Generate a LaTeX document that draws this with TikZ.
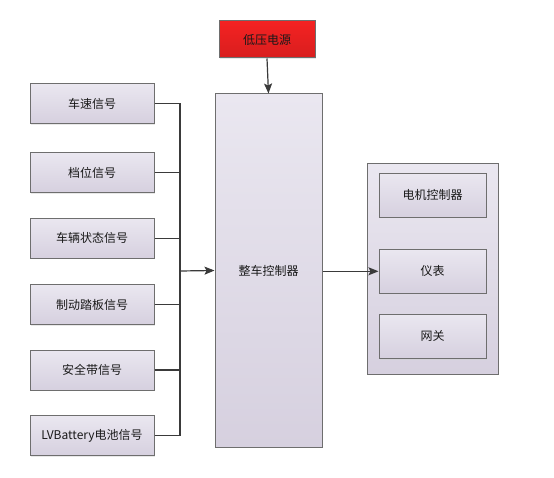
\documentclass[tikz,border=0pt]{standalone}
\usepackage{fontspec}
\newfontfamily\cjk{Noto Sans CJK SC}
\usepackage{tikz}
\usetikzlibrary{arrows.meta,shadows}

\definecolor{boxtop}{HTML}{EAE7F0}
\definecolor{boxbot}{HTML}{D6D0DF}
\definecolor{boxline}{HTML}{6E6E6E}
\definecolor{redtop}{HTML}{F42222}
\definecolor{redbot}{HTML}{D81E1E}
\definecolor{wire}{HTML}{3A3A3A}

\tikzset{
  box/.style={draw=boxline, line width=1pt, top color=boxtop, bottom color=boxbot,
    drop shadow={shadow xshift=1.2pt, shadow yshift=-1.2pt, fill=black!18},
    font=\cjk\fontsize{12}{14}\selectfont, text=black!90},
  sigbox/.style={box, minimum width=124pt, minimum height=40pt},
  outbox/.style={box, minimum width=107pt, minimum height=44pt},
  wireline/.style={draw=wire, line width=1.2pt},
  arr/.style={wireline, -{Stealth[length=10pt,width=8pt,inset=2pt]}}
}

\begin{document}
\begin{tikzpicture}[x=1pt,y=-1pt]
\useasboundingbox (0,0) rectangle (554,478);
% power supply and controller
\node[box, minimum width=96pt, minimum height=37pt, top color=redtop, bottom color=redbot]
  (pwr) at (267,39.5) {低压电源};
\node[box, minimum width=107pt, minimum height=353pt] (vcu) at (268.5,270.5) {整车控制器};
\draw[arr] (pwr.south) -- (vcu.north);
% input signals
\foreach \i/\y/\txt in {1/103.5/车速信号, 2/172.5/档位信号, 3/238.3/车辆状态信号,
    4/304.7/制动踏板信号, 5/370/安全带信号, 6/435.7/LVBattery电池信号}
  \node[sigbox] (sig\i) at (92,\y) {\txt};
\coordinate (bus) at (180,271);
\foreach \i in {1,...,6}
  \draw[wireline] (sig\i.east) -- (sig\i.east -| bus);
\draw[wireline] (sig1.east -| bus) -- (sig6.east -| bus);
\draw[arr] (bus) -- (vcu.west);
% outputs
\node[box, minimum width=131pt, minimum height=210pt] (outs) at (432.5,269) {};
\node[outbox] (mcu) at (432.5,195.3) {电机控制器};
\node[outbox] (meter) at (432.5,271.3) {仪表};
\node[outbox] (gw) at (432.5,336.3) {网关};
\draw[arr] (vcu.east |- meter.west) -- (meter.west);
\end{tikzpicture}
\end{document}
